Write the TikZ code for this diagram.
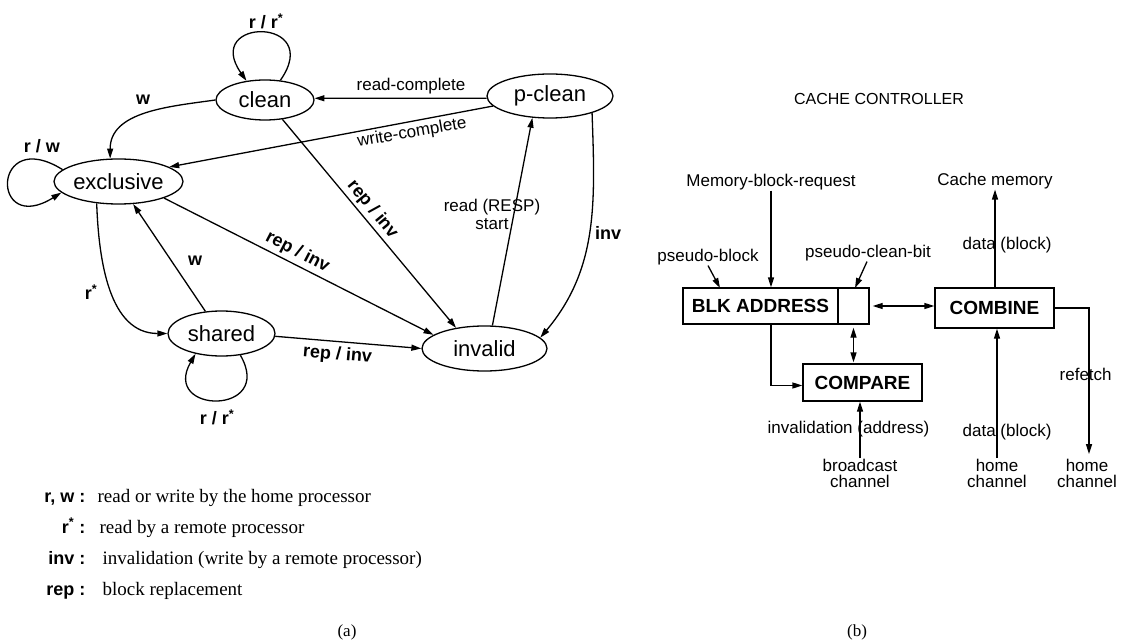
\documentclass[tikz,border=0pt]{standalone}
\usepackage{fontspec}
\setmainfont{Liberation Serif}
\setsansfont{Liberation Sans}
\usetikzlibrary{arrows.meta,shapes.geometric,calc}

\begin{document}
\begin{tikzpicture}[x=1pt,y=1pt,
  line width=1.3pt,
  >={Triangle[length=10pt,width=6pt]},
  state/.style={draw,ellipse,inner sep=0pt,font=\sffamily\fontsize{22}{24}\selectfont},
  lbl/.style={font=\sffamily\fontsize{17}{18}\selectfont,inner sep=0pt},
  twoline/.style={font=\sffamily\fontsize{17}{16}\selectfont,inner sep=0pt,align=center},
  blbl/.style={font=\sffamily\bfseries\fontsize{18}{20}\selectfont,inner sep=0pt},
  box/.style={draw,rectangle,inner sep=0pt,font=\sffamily\bfseries\fontsize{19}{20}\selectfont},
  legkey/.style={font=\sffamily\bfseries\fontsize{18}{20}\selectfont,anchor=base east,inner sep=0pt},
  legtxt/.style={font=\fontsize{19}{20}\selectfont,anchor=base west,inner sep=0pt},
  caption/.style={font=\fontsize{17}{18}\selectfont,inner sep=0pt},
]
\useasboundingbox (0,0) rectangle (1121,-644);

% ---------------- (a) state diagram ----------------
\node[state,minimum width=98pt,minimum height=40pt]  (cln) at (265,-100)   {clean};
\node[state,minimum width=129pt,minimum height=45pt] (exc) at (118.5,-181.5) {exclusive};
\node[state,minimum width=126pt,minimum height=44pt] (pcl) at (550,-96)    {p-clean};
\node[state,minimum width=125pt,minimum height=45pt] (inv) at (484.5,-348.5) {invalid};
\node[state,minimum width=107pt,minimum height=45pt] (shd) at (221.5,-333.5) {shared};

% self loops
\draw[->] (cln.52) to[out=55,in=125,distance=78pt] (cln.134);
\draw[->] (exc.168) to[out=148,in=212,distance=84pt] (exc.191);
\draw[->] (shd.-49) to[out=-60,in=-120,distance=70pt] (shd.-142);

% transitions
\draw[->] (pcl.182) -- (cln.2);
\draw[->] (pcl.190) -- (exc.16);
\draw[->] (cln.west) to[out=188,in=90] (exc.110);
\draw[->] (cln.-48) -- (inv.144);
\draw[->] (exc.-20) -- (inv.165);
\draw[->] (exc.-135) to[out=-88,in=180] (shd.west);
\draw[->] (shd.126) -- (exc.-57);
\draw[->] (shd.-3) -- (inv.west);
\draw[->] (inv.71) -- (pcl.-129);
\draw[->] (pcl.-22) to[out=-88,in=50] (inv.11);

% transition labels
\node[blbl] (lcl)  at (266,-21)  {r\ /\ r\textsuperscript{*}};
\node[blbl] (lw1)  at (143,-100) {w};
\node[blbl] (lex)  at (42,-146)  {r\ /\ w};
\node[lbl]  (lrc)  at (411,-86)  {read-complete};
\node[lbl,rotate=10] (lwc) at (412,-133) {write-complete};
\node[blbl,rotate=-50.5] (lri1) at (372.5,-209.5) {rep / inv};
\node[blbl,rotate=-27.5] (lri2) at (297.5,-252.5) {rep / inv};
\node[blbl] (lw2)  at (195,-261) {w};
\node[blbl] (lrs)  at (91,-292)  {r\textsuperscript{*}};
\node[blbl,rotate=-5] (lri3) at (337.5,-355) {rep / inv};
\node[blbl] (lsh)  at (217,-417) {r / r\textsuperscript{*}};
\node[lbl,align=center] (lrd) at (492,-214) {read (RESP)\\start};
\node[blbl] (linv) at (608,-233) {inv};

% legend
\node[legkey] (k1) at (86,-502) {r, w :};
\node[legtxt] (t1) at (97,-502) {read or write by the home processor};
\node[legkey] (k2) at (86,-533) {r\textsuperscript{*} :};
\node[legtxt] (t2) at (99,-533) {read by a remote processor};
\node[legkey] (k3) at (86,-564) {inv :};
\node[legtxt] (t3) at (102,-564) {invalidation (write by a remote processor)};
\node[legkey] (k4) at (86,-595) {rep :};
\node[legtxt] (t4) at (102,-595) {block replacement};

\node[caption] (capa) at (347,-632) {(a)};

% ---------------- (b) cache controller ----------------
\node[font=\sffamily\fontsize{16}{18}\selectfont,inner sep=0pt] (title) at (879,-99) {CACHE CONTROLLER};

\node[lbl] (mbr)  at (771,-182) {Memory-block-request};
\node[lbl] (cmem) at (995,-181) {Cache memory};
\node[lbl] (pb)   at (708,-257) {pseudo-block};
\node[lbl] (pcb)  at (868,-253) {pseudo-clean-bit};

\node[box,minimum width=155pt,minimum height=36pt] (blk) at (760.5,-306) {BLK ADDRESS};
\node[box,minimum width=31pt,minimum height=36pt]  (bit) at (853.5,-306) {};
\node[box,minimum width=119pt,minimum height=40pt] (cmb) at (994.5,-308) {COMBINE};
\node[box,minimum width=119pt,minimum height=37pt] (cmp) at (862.5,-382.5) {COMPARE};

\node[twoline] (bcast) at (860,-473)  {broadcast\\channel};
\node[twoline] (hc1)   at (997,-473)  {home\\channel};
\node[twoline] (hc2)   at (1087,-473) {home\\channel};

\node[lbl,anchor=west] (linvl) at (767,-429) {invalidation (address)};
\node[lbl,anchor=west] (ldat1) at (962,-245) {data (block)};
\node[lbl,anchor=west] (ldat2) at (962,-432) {data (block)};
\node[lbl,anchor=west] (lref)  at (1059,-374) {refetch};

\coordinate (pbtip)  at (720,-288);
\coordinate (pcbtip) at (855,-288);

\draw[->] (mbr.south) -- (mbr.south |- blk.north);
\draw[->] (pb.south) -- (pbtip);
\draw[->] ([xshift=-1pt]pcb.south) -- (pcbtip);
\draw[->] (cmb.north -| cmem.south) -- (cmem.south);
\draw[<->,shorten <=3pt] (bit.east) -- (bit.east -| cmb.west);
\draw[<->,shorten <=3pt,shorten >=1pt] (bit.south) -- (bit.south |- cmp.north);
\draw[->] ([xshift=10.5pt]blk.south) |- ([yshift=-3pt]cmp.west);
\draw[->] (bcast.north) -- (bcast.north |- cmp.south);
\draw[->] (hc1.north) -- (hc1.north |- cmb.south);
\draw[->,shorten >=4pt] (cmb.east) -| ([xshift=2pt]hc2.north);

\node[caption] (capb) at (857,-632) {(b)};
\end{tikzpicture}
\end{document}
